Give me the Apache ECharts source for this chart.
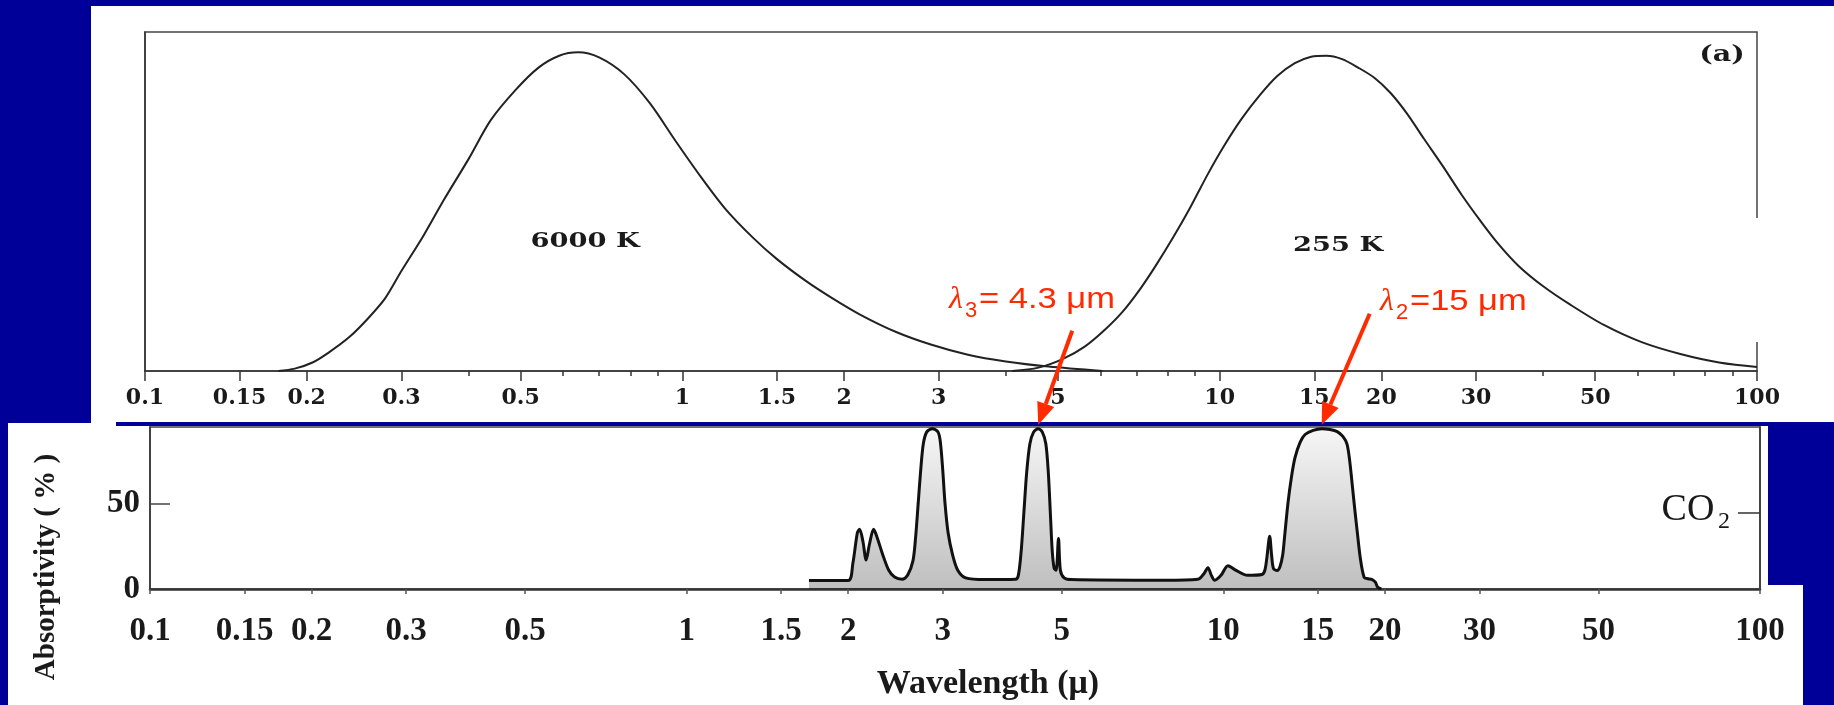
<!DOCTYPE html>
<html>
<head>
<meta charset="utf-8">
<script src="https://cdn.jsdelivr.net/npm/echarts@6/dist/echarts.min.js"></script>
<style>
html, body { margin: 0; padding: 0; background: #000099; }
#main { width: 1834px; height: 705px; }
</style>
</head>
<body>
<div id="main"></div>
<script>
// tick positions on the wavelength axes (micrometres)
var tickValues = [0.1, 0.15, 0.2, 0.3, 0.5, 1, 1.5, 2, 3, 5, 10, 15, 20, 30, 50, 100];
var minorTickValues = [0.4, 0.6, 0.7, 0.8, 0.9, 4, 6, 7, 8, 9, 40, 60, 70, 80, 90];

// 6000 K blackbody curve (relative units)
var sunWl  = [0.177, 0.19, 0.205, 0.22, 0.24, 0.26, 0.28, 0.3, 0.33, 0.36, 0.4, 0.44, 0.49, 0.54, 0.59, 0.64,
              0.7, 0.78, 0.87, 0.97, 1.08, 1.2, 1.35, 1.5, 1.7, 1.9, 2.15, 2.5, 2.9, 3.4, 4.0, 4.8, 6.05];
var sunVal = [0, 0.7, 2.5, 5.5, 10, 15.5, 21.5, 29.5, 40, 50.5, 62.5, 74, 83, 89.5, 93, 94,
              92.5, 87.5, 79, 68, 57.5, 48, 39.5, 33, 26.5, 21.5, 16.5, 11.5, 7.8, 4.8, 2.8, 1.3, 0];

// 255 K blackbody curve
var earthWl  = [4.11, 4.6, 5.1, 5.6, 6.1, 6.6, 7.1, 7.6, 8.2, 8.8, 9.5, 10.2, 11.0, 11.9, 12.8, 13.8, 14.8, 15.8, 16.9,
                18.1, 19.4, 20.8, 22.3, 24, 26, 28.2, 30.5, 33, 36, 40, 45, 52, 61, 72, 85, 100];
var earthVal = [0, 1.0, 3.5, 7.1, 12, 17.5, 24, 31, 39.5, 48, 58, 66.5, 74.5, 81.5, 87, 90.8, 92.7, 93, 92,
                89.5, 86.5, 82, 76, 68.5, 60.5, 52, 44.5, 37.5, 31, 25, 19.5, 13.5, 8.5, 5, 2.5, 1.2];

// CO2 absorptivity (%)
var co2Wl  = [1.69, 2.0, 2.04, 2.08, 2.1, 2.13, 2.16, 2.19, 2.23, 2.26, 2.32, 2.38, 2.44, 2.52, 2.58,
              2.64, 2.67, 2.7, 2.73, 2.76, 2.8, 2.87, 2.94, 2.97, 3.0, 3.03, 3.07, 3.13, 3.2, 3.31, 3.6,
              4.1, 4.15, 4.2, 4.25, 4.3, 4.36, 4.43, 4.52, 4.6, 4.67, 4.72, 4.76, 4.8, 4.84, 4.88, 4.93, 4.97, 5.05, 5.2,
              7.79, 8.97, 9.2, 9.36, 9.5, 9.64, 9.9, 10.2, 10.5, 11.1, 11.8, 11.95, 12.05, 12.2, 12.3, 12.4, 12.6, 12.75,
              12.9, 13.0, 13.2, 13.4, 13.6, 13.9, 14.2, 14.7, 15.25, 15.8, 16.3, 16.7, 17.0, 17.2, 17.4, 17.6, 17.8, 18.0,
              18.3, 18.6, 18.9, 19.2, 19.4, 19.7];
var co2Val = [5, 5, 15, 33, 35, 28, 17, 26, 35, 31, 20, 11, 7, 5.7, 8,
              16.5, 30, 50, 70, 85, 92, 94, 92, 86, 70, 50, 33, 20, 11, 6.5, 5.5,
              5.7, 8, 22, 45, 68, 85, 92, 94, 92, 85, 68, 45, 22, 12, 11, 29.6, 11, 6.5, 5.5,
              5.1, 5.7, 9, 12.5, 8, 5.1, 8, 13.7, 11.4, 8, 8.5, 11, 18, 31, 20, 12, 10.8, 13,
              20, 30, 50.7, 66, 77, 86, 90.6, 93, 94, 93.5, 92.3, 89.5, 85, 75, 60, 45, 31, 18,
              6.8, 6, 5.7, 4, 1, 0];

var yTicksAbs = [0, 50];

function lg(v) { return Math.log10(v); }
function pairs(xs, ys) { return xs.map(function (x, i) { return [lg(x), ys[i]]; }); }
function fmt(v) { return String(+Math.pow(10, v).toPrecision(2)); }

var ink = '#222';
var blue = '#000099';
var red = '#ff2a00';

var chart = echarts.init(document.getElementById('main'));

var option = {
    animation: false,
    backgroundColor: '#ffffff',
    grid: [
        { left: 145, top: 32, width: 1612, height: 339, show: true, borderColor: '#444', borderWidth: 1.5 },
        { left: 150, top: 427, width: 1610, height: 162, show: true, borderColor: '#444', borderWidth: 1.5 }
    ],
    xAxis: [
        {
            type: 'value', gridIndex: 0, min: -1, max: 2,
            axisLine: { show: true, onZero: false, lineStyle: { color: '#333', width: 1.5 } },
            axisTick: { show: true, length: 10, customValues: tickValues.map(lg), lineStyle: { color: '#333', width: 1.5 } },
            axisLabel: {
                customValues: tickValues.map(lg), formatter: fmt, margin: 16,
                color: '#1a1a1a', fontFamily: 'DejaVu Serif', fontWeight: 'bold', fontSize: 22
            },
            splitLine: { show: false }
        },
        {
            type: 'value', gridIndex: 0, min: -1, max: 2, position: 'bottom',
            axisLine: { show: false, onZero: false },
            axisTick: { show: true, length: 5, customValues: minorTickValues.map(lg), lineStyle: { color: '#333', width: 1.5 } },
            axisLabel: { show: false },
            splitLine: { show: false }
        },
        {
            type: 'value', gridIndex: 1, min: -1, max: 2,
            axisLine: { show: true, onZero: false, lineStyle: { color: '#333', width: 2.5 } },
            axisTick: { show: true, length: 5, customValues: tickValues.map(lg), lineStyle: { color: '#555', width: 1.5 } },
            axisLabel: {
                customValues: tickValues.map(lg), formatter: fmt, margin: 26,
                color: '#1a1a1a', fontFamily: 'Liberation Serif', fontWeight: 'bold', fontSize: 33
            },
            splitLine: { show: false }
        }
    ],
    yAxis: [
        {
            type: 'value', gridIndex: 0, min: 0, max: 100,
            axisLine: { show: true, onZero: false, lineStyle: { color: '#333', width: 1.5 } },
            axisTick: { show: false }, axisLabel: { show: false }, splitLine: { show: false }
        },
        {
            type: 'value', gridIndex: 1, min: 0, max: 95,
            axisLine: { show: true, onZero: false, lineStyle: { color: '#333', width: 1.5 } },
            axisTick: { show: true, inside: true, length: 20, customValues: [50], lineStyle: { color: '#444', width: 1.5 } },
            axisLabel: {
                customValues: yTicksAbs, margin: 10,
                color: '#1a1a1a', fontFamily: 'Liberation Serif', fontWeight: 'bold', fontSize: 33
            },
            splitLine: { show: false }
        },
        {
            type: 'value', gridIndex: 1, min: 0, max: 95, position: 'right',
            axisLine: { show: true, onZero: false, lineStyle: { color: '#333', width: 1.5 } },
            axisTick: { show: true, inside: true, length: 22, customValues: [45], lineStyle: { color: '#333', width: 1.5 } },
            axisLabel: { show: false },
            splitLine: { show: false }
        }
    ],
    series: [
        {
            name: '6000 K', type: 'line', xAxisIndex: 0, yAxisIndex: 0,
            data: pairs(sunWl, sunVal), smooth: 0.3, symbol: 'none',
            lineStyle: { color: ink, width: 2 }
        },
        {
            name: '255 K', type: 'line', xAxisIndex: 0, yAxisIndex: 0,
            data: pairs(earthWl, earthVal), smooth: 0.3, symbol: 'none',
            lineStyle: { color: ink, width: 2 }
        },
        {
            name: 'CO2', type: 'line', xAxisIndex: 2, yAxisIndex: 1,
            data: pairs(co2Wl, co2Val), smooth: 0.3, symbol: 'none',
            lineStyle: { color: '#111', width: 3 },
            areaStyle: {
                color: new echarts.graphic.LinearGradient(0, 0, 0, 1, [
                    { offset: 0, color: 'rgba(0,0,0,0.05)' },
                    { offset: 1, color: 'rgba(0,0,0,0.36)' }
                ])
            }
        }
    ]
};

chart.setOption(option);

function arrow(tip, dx, dy) {
    var len = Math.sqrt(dx * dx + dy * dy);
    var ux = -dx / len, uy = -dy / len;
    var hl = 22, hw = 9;
    var bx = tip[0] - ux * hl, by = tip[1] - uy * hl;
    var px = -uy, py = ux;
    return [
        { type: 'line', z: 110, shape: { x1: tip[0] + dx, y1: tip[1] + dy, x2: bx, y2: by }, style: { stroke: red, lineWidth: 4 } },
        { type: 'polygon', z: 110, shape: { points: [[tip[0], tip[1]], [bx + px * hw, by + py * hw], [bx - px * hw, by - py * hw]] }, style: { fill: red } }
    ];
}

var tip3 = chart.convertToPixel({ xAxisIndex: 2, yAxisIndex: 1 }, [lg(4.52), 94]);
var tip2 = chart.convertToPixel({ xAxisIndex: 2, yAxisIndex: 1 }, [lg(15.25), 94]);
tip3[1] -= 4; tip2[1] -= 4;

var serifBold = { fontFamily: 'DejaVu Serif', fontWeight: 'bold', fill: '#1a1a1a' };
function txt(x, y, text, style, extra) {
    var o = { type: 'text', z: 105, x: x, y: y, style: Object.assign({ text: text, textAlign: 'center', textVerticalAlign: 'middle' }, style) };
    return Object.assign(o, extra || {});
}

var elements = [
    // blue slide background around the pasted figure pieces
    { type: 'rect', z: 100, shape: { x: 0, y: 0, width: 1834, height: 6 }, style: { fill: blue } },
    { type: 'rect', z: 100, shape: { x: 0, y: 0, width: 91, height: 423 }, style: { fill: blue } },
    { type: 'rect', z: 100, shape: { x: 0, y: 423, width: 8, height: 282 }, style: { fill: blue } },
    { type: 'rect', z: 100, shape: { x: 116, y: 422, width: 1718, height: 4 }, style: { fill: blue } },
    { type: 'rect', z: 100, shape: { x: 1768, y: 426, width: 66, height: 159 }, style: { fill: blue } },
    { type: 'rect', z: 100, shape: { x: 1803, y: 585, width: 31, height: 120 }, style: { fill: blue } },
    // gap in the right border of the upper panel
    { type: 'rect', z: 100, shape: { x: 1750, y: 218, width: 16, height: 124 }, style: { fill: '#fff' } },

    txt(585, 242, '6000 K', Object.assign({ fontSize: 21 }, serifBold), { scaleX: 1.3 }),
    txt(1338, 246, '255 K', Object.assign({ fontSize: 21 }, serifBold), { scaleX: 1.3 }),
    txt(1722, 55, '(a)', Object.assign({ fontSize: 22 }, serifBold), { scaleX: 1.3 }),

    txt(1688, 510, 'CO', { fontFamily: 'Liberation Serif', fontSize: 38, fill: '#1a1a1a' }),
    txt(1724, 522, '2', { fontFamily: 'Liberation Serif', fontSize: 24, fill: '#1a1a1a' }),

    txt(988, 684, 'Wavelength (\u03bc)', { fontFamily: 'Liberation Serif', fontWeight: 'bold', fontSize: 34, fill: '#1a1a1a' }),
    txt(47, 567, 'Absorptivity ( % )', { fontFamily: 'Liberation Serif', fontWeight: 'bold', fontSize: 29, fill: '#1a1a1a' },
        { rotation: Math.PI / 2 }),

    // red annotations
    txt(956, 300, '\u03bb', { fontFamily: 'Liberation Serif', fontStyle: 'italic', fontSize: 32, fill: red }),
    txt(971, 311, '3', { fontFamily: 'Liberation Sans', fontSize: 22, fill: red }),
    { type: 'text', z: 110, x: 979, y: 300, scaleX: 1.15, style: { text: '= 4.3 \u03bcm', fontFamily: 'Liberation Sans', fontSize: 30, fill: red, textAlign: 'left', textVerticalAlign: 'middle' } },
    txt(1387, 302, '\u03bb', { fontFamily: 'Liberation Serif', fontStyle: 'italic', fontSize: 32, fill: red }),
    txt(1402, 313, '2', { fontFamily: 'Liberation Sans', fontSize: 22, fill: red }),
    { type: 'text', z: 110, x: 1410, y: 302, scaleX: 1.15, style: { text: '=15 \u03bcm', fontFamily: 'Liberation Sans', fontSize: 30, fill: red, textAlign: 'left', textVerticalAlign: 'middle' } }
];

elements = elements.concat(arrow(tip3, 34, -94), arrow(tip2, 48, -111));

chart.setOption({ graphic: { elements: elements } });
</script>
</body>
</html>
